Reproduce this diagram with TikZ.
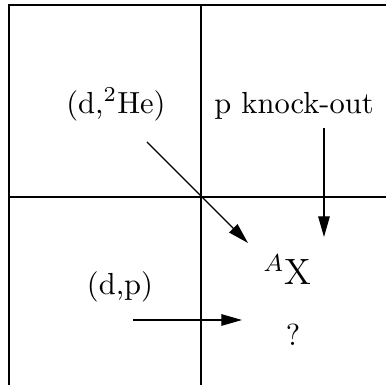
\documentclass[tikz,border=0pt]{standalone}
\usetikzlibrary{arrows.meta}
\begin{document}
\begin{tikzpicture}[
  x=0.328pt, y=-0.328pt,
  lbl/.style={anchor=base, inner sep=0pt},
  arr/.style={-{Triangle[length=6.8pt,width=3.8pt]}},
]
  \useasboundingbox (0,0) rectangle (386,385);

  % Frame and axes
  \draw (386,5) -- (9,5) -- (9,385);
  \draw (201,5) -- (201,385);
  \draw (9,197) -- (386,197);

  % Reaction labels
  \node[lbl] (dhe) at (116,113) {(d,$^2$He)};
  \node[lbl] (knock) at (294,113) {p knock-out};
  \node[lbl] (dp) at (120,295) {(d,p)};
  \node[lbl, font=\large] (nucl) at (287.5,285) {$^{A}$X};
  \node[lbl] (unk) at (293,346) {?};

  % Arrow ends
  \coordinate (dheS) at (147,142);
  \coordinate (dheE) at (248,243);
  \coordinate (knockS) at (324,128);
  \coordinate (knockE) at (324,237);
  \coordinate (dpS) at (133,320);
  \coordinate (dpE) at (242,320);

  % Arrows
  \draw[arr] (dheS) -- (dheE);
  \draw[arr] (knockS) -- (knockE);
  \draw[arr] (dpS) -- (dpE);
\end{tikzpicture}
\end{document}
